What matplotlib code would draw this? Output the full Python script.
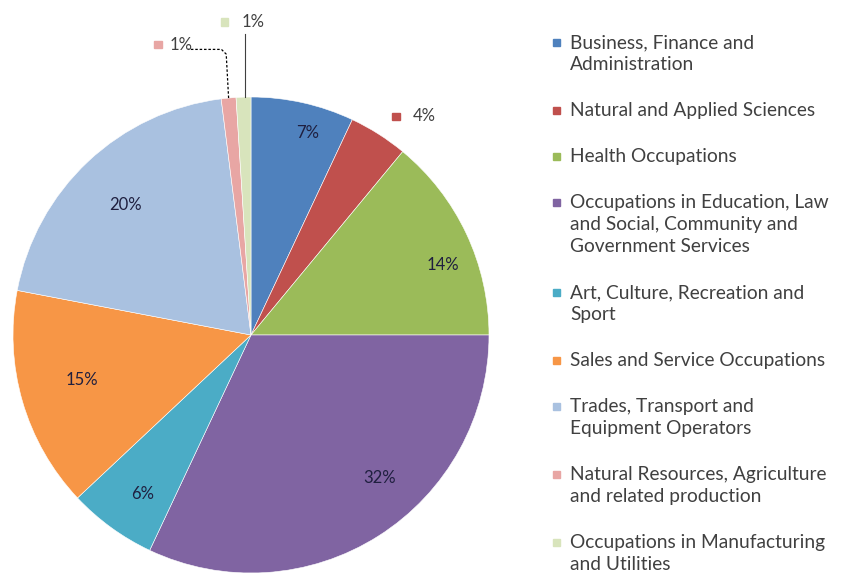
import numpy as np
import matplotlib.pyplot as plt
from matplotlib.patches import Rectangle

categories = [
    'Business, Finance and\nAdministration',
    'Natural and Applied Sciences',
    'Health Occupations',
    'Occupations in Education, Law\nand Social, Community and\nGovernment Services',
    'Art, Culture, Recreation and\nSport',
    'Sales and Service Occupations',
    'Trades, Transport and\nEquipment Operators',
    'Natural Resources, Agriculture\nand related production',
    'Occupations in Manufacturing\nand Utilities',
]
values = [7, 4, 14, 32, 6, 15, 20, 1, 1]
pct_labels = ['7%', '4%', '14%', '32%', '6%', '15%', '20%', '1%', '1%']
colors = ['#4F81BD', '#C0504D', '#9BBB59', '#8064A2', '#4BACC6',
          '#F79646', '#A9C1E0', '#E8A6A4', '#D8E4BC']

plt.rcParams['font.family'] = ['Lato', 'DejaVu Sans']

W, H = 844, 588
fig = plt.figure(figsize=(W / 100, H / 100), dpi=100)

# pie axes: centre (251, 335) px, radius 238 px
cx, cy, r = 251, 335, 238
ax = fig.add_axes([(cx - r) / W, (H - cy - r) / H, 2 * r / W, 2 * r / H])
wedges, _ = ax.pie(values, colors=colors, startangle=90, counterclock=False,
                   radius=1.0, wedgeprops=dict(linewidth=0.4, edgecolor='white'))
ax.set_xlim(-1, 1)
ax.set_ylim(-1, 1)
ax.set_aspect('equal')
ax.axis('off')

lab_size = 12
ms = 0.032  # small marker square in data units

# data labels (radius, angle shift in degrees like Excel "best fit")
label_dist = [0.88, 1.1, 0.86, 0.81, 0.81, 0.735, 0.76, None, None]
label_shift = [-3.1, 0, -5.2, 9.5, 1.7, -1.3, 0.9, 0, 0]
for w, lab, d, s, c in zip(wedges, pct_labels, label_dist, label_shift, colors):
    if d is None:
        continue
    ang = np.deg2rad((w.theta1 + w.theta2) / 2 + s)
    x, y = d * np.cos(ang), d * np.sin(ang)
    if d > 1:
        ax.add_patch(Rectangle((x + 0.02 - ms / 2, y - 0.01 - ms / 2), ms, ms,
                               color=c, clip_on=False))
        ax.text(x + 0.09, y - 0.01, lab, ha='left', va='center', fontsize=lab_size,
                color='#404040')
    else:
        ax.text(x, y, lab, ha='center', va='center', fontsize=lab_size, color='#1F1F3F')

# two 1% slices with leader lines
w = wedges[7]
ang = np.deg2rad((w.theta1 + w.theta2) / 2)
x0, y0 = np.cos(ang), np.sin(ang)
top = 1.2
ax.plot([x0, x0 - 0.01, x0 - 0.03, x0 - 0.17], [y0, top - 0.02, top, top],
        color='black', lw=0.9, ls=(0, (2, 1.5)), clip_on=False)
ax.add_patch(Rectangle((-0.39 - ms / 2, top + 0.02 - ms / 2), ms, ms, color=colors[7], clip_on=False))
ax.text(-0.34, top + 0.02, pct_labels[7], ha='left', va='center', fontsize=lab_size, color='#404040')

w = wedges[8]
ang = np.deg2rad((w.theta1 + w.theta2) / 2)
x0, y0 = np.cos(ang), np.sin(ang)
top = 1.315
ax.plot([x0 + 0.005, x0 + 0.005], [y0, top - 0.05], color='#404040', lw=0.8, clip_on=False)
ax.add_patch(Rectangle((x0 - 0.08 - ms / 2, top - ms / 2), ms, ms, color=colors[8], clip_on=False))
ax.text(x0 - 0.01, top, pct_labels[8], ha='left', va='center', fontsize=lab_size, color='#404040')

# legend
y = 42
line_h = 22
for cat, c in zip(categories, colors):
    lines = cat.split('\n')
    fig.patches.append(Rectangle((553 / W, 1 - (y + 3.5) / H), 7 / W, 7 / H,
                                 color=c, transform=fig.transFigure, figure=fig))
    for k, ln in enumerate(lines):
        fig.text(570 / W, 1 - (y + 6 + k * line_h) / H, ln, ha='left', va='baseline',
                 fontsize=13.8, color='#404040')
    y += line_h * len(lines) + 24

fig.savefig('out.png', dpi=100)
